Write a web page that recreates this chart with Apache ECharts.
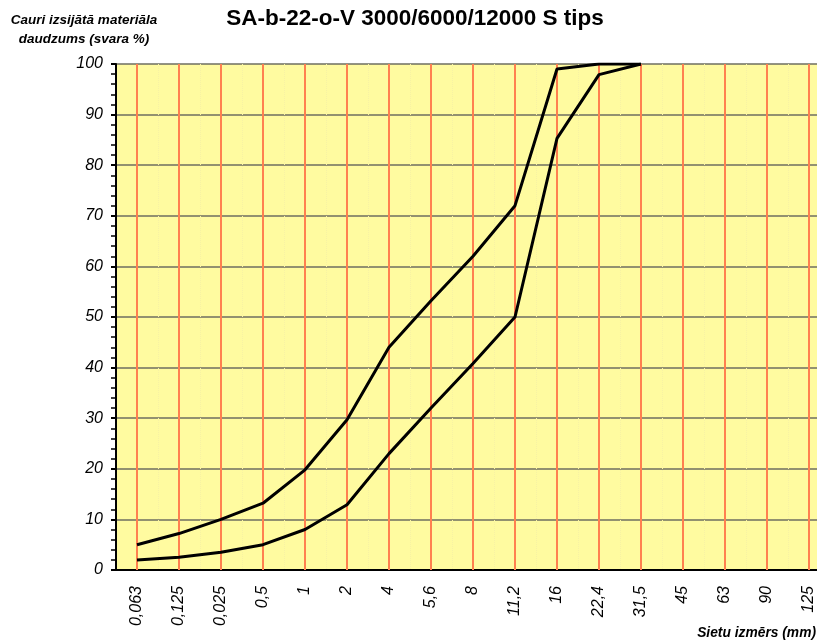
<!DOCTYPE html>
<html>
<head>
<meta charset="utf-8">
<script src="https://cdn.jsdelivr.net/npm/echarts@6/dist/echarts.min.js"></script>
<style>
  html, body { margin: 0; padding: 0; background: #fff; overflow: hidden; }
  #main { width: 830px; height: 643px; }
</style>
</head>
<body>
<div id="main"></div>
<script>
const sieves = ['0,063', '0,125', '0,025', '0,5', '1', '2', '4', '5,6', '8', '11,2', '16', '22,4', '31,5', '45', '63', '90', '125'];
const upper = [5, 7.2, 10, 13.2, 19.8, 29.7, 44, 53.2, 62, 72, 99, 100, 100];
const lower = [2, 2.5, 3.5, 5, 8, 12.9, 23, 32, 40.8, 50, 85.3, 97.9, 100];

// the plot runs past the right edge of the window, as in the original
const myChart = echarts.init(document.getElementById('main'));

const font = 'Liberation Sans, Arial, sans-serif';

const option = {
  animation: false,
  backgroundColor: '#fff',
  grid: {
    left: 116,
    top: 64,
    right: 0,
    bottom: 73,
    show: true,
    backgroundColor: '#FFFBA0',
    borderWidth: 0,
  },
  graphic: [
    {
      type: 'text',
      left: 'center',
      top: 7,
      style: {
        text: 'SA-b-22-o-V 3000/6000/12000 S tips',
        font: 'bold 22.5px ' + font,
        fill: '#000',
      },
    },
    {
      type: 'text',
      x: 84,
      y: 11,
      style: {
        text: 'Cauri izsijātā materiāla\ndaudzums (svara %)',
        font: 'italic bold 13.5px ' + font,
        fill: '#000',
        align: 'center',
        lineHeight: 19,
      },
    },
    {
      type: 'text',
      right: 14,
      top: 626,
      style: {
        text: 'Sietu izmērs (mm)',
        font: 'italic bold 13.8px ' + font,
        fill: '#000',
      },
    },
  ],
  xAxis: {
    type: 'category',
    data: sieves,
    boundaryGap: true,
    axisLine: { show: true, lineStyle: { color: '#000', width: 2 } },
    axisTick: {
      show: true,
      alignWithLabel: true,
      inside: true,
      length: 506,
      lineStyle: { color: '#FF8050', width: 2 },
    },
    splitLine: {
      show: true,
      lineStyle: { color: '#F7F2A4', width: 1, type: 'dotted' },
    },
    axisLabel: {
      rotate: 90,
      margin: 16,
      fontSize: 16,
      fontStyle: 'italic',
      fontFamily: font,
      color: '#000',
      interval: 0,
    },
  },
  yAxis: {
    type: 'value',
    min: 0,
    max: 100,
    interval: 10,
    axisLine: { show: true, lineStyle: { color: '#000', width: 2 } },
    axisTick: { show: true, length: 5, lineStyle: { color: '#000', width: 2 } },
    minorTick: { show: true, splitNumber: 5, length: 5, lineStyle: { color: '#000', width: 1.5 } },
    splitLine: { show: true, lineStyle: { color: '#6E6E60', width: 1.5 } },
    axisLabel: {
      margin: 13,
      fontSize: 16,
      fontStyle: 'italic',
      fontFamily: font,
      color: '#000',
    },
  },
  series: [
    {
      name: 'upper',
      type: 'line',
      data: upper,
      symbol: 'none',
      lineStyle: { color: '#000', width: 3 },
      z: 5,
    },
    {
      name: 'lower',
      type: 'line',
      data: lower,
      symbol: 'none',
      lineStyle: { color: '#000', width: 3 },
      z: 5,
    },
  ],
};

myChart.setOption(option);
</script>
</body>
</html>
